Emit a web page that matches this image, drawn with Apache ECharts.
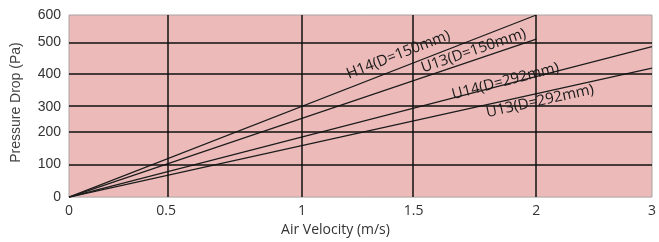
<!DOCTYPE html>
<html>
<head>
<meta charset="utf-8">
<script src="https://cdn.jsdelivr.net/npm/echarts@6/dist/echarts.min.js"></script>
<style>
  html, body { margin: 0; padding: 0; background: #fff; }
  #chart { width: 659px; height: 242px; }
</style>
</head>
<body>
<div id="chart"></div>
<script>
// data
var velTicks = [0, 0.5, 1, 1.5, 2, 3];
var velLabels = ['0', '0.5', '1', '1.5', '2', '3'];
var presTicks = [0, 100, 200, 300, 400, 500, 600];
var lineNames = ['H14(D=150mm)', 'U13(D=150mm)', 'U14(D=292mm)', 'U13(D=292mm)'];
var h14_150 = [[0, 0], [2, 600]];
var u13_150 = [[0, 0], [2, 510]];
var u14_292 = [[0, 0], [3, 485]];
var u13_292 = [[0, 0], [3, 418]];

// the original grid is not evenly spaced: where each tick sits (0..1 of the plot)
var xTickAt = [0, 0.1667, 0.3997, 0.591, 0.8015, 1];
var yTickAt = [0, 0.179, 0.357, 0.496, 0.676, 0.853, 1];

// label placement: fraction along the line, shift off the line (px)
var labelAt = [0.715, 0.872, 0.75, 0.805];
var labelShift = [13, 9, 3, -8];

function piece(v, ticks, at) {
    for (var i = 1; i < ticks.length; i++) {
        if (v <= ticks[i]) {
            var f = (v - ticks[i - 1]) / (ticks[i] - ticks[i - 1]);
            return at[i - 1] + f * (at[i] - at[i - 1]);
        }
    }
    return at[at.length - 1];
}
function toPos(pts) {
    return pts.map(function (p) {
        return [piece(p[0], velTicks, xTickAt), piece(p[1], presTicks, yTickAt)];
    });
}
function nearest(v, at) {
    var best = 0;
    for (var i = 1; i < at.length; i++) {
        if (Math.abs(at[i] - v) < Math.abs(at[best] - v)) best = i;
    }
    return best;
}

var lineData = [h14_150, u13_150, u14_292, u13_292].map(toPos);

var gridLines = [];
xTickAt.slice(1, -1).forEach(function (v) { gridLines.push({ xAxis: v }); });
yTickAt.slice(1, -1).forEach(function (v) { gridLines.push({ yAxis: v }); });

var option = {
    animation: false,
    grid: {
        left: 69,
        right: 2,
        top: 15,
        bottom: 43,
        show: true,
        backgroundColor: '#ecbbb9',
        borderColor: '#aaa3a3',
        borderWidth: 1
    },
    xAxis: {
        type: 'value',
        min: 0,
        max: 1,
        name: 'Air Velocity (m/s)',
        nameLocation: 'middle',
        nameGap: 25,
        nameTextStyle: {
            fontFamily: 'Open Sans',
            fontSize: 14,
            color: '#333',
            padding: [0, 50, 0, 0]
        },
        axisLine: { show: false },
        axisTick: { show: false },
        splitLine: { show: false },
        axisLabel: {
            customValues: xTickAt,
            margin: 7,
            fontFamily: 'Open Sans',
            fontSize: 14,
            color: '#333',
            formatter: function (v) { return velLabels[nearest(v, xTickAt)]; }
        }
    },
    yAxis: {
        type: 'value',
        min: 0,
        max: 1,
        name: 'Pressure Drop (Pa)',
        nameLocation: 'middle',
        nameGap: 46,
        nameTextStyle: {
            fontFamily: 'Liberation Sans',
            fontSize: 14,
            color: '#444',
            padding: [0, 0, 0, 7]
        },
        axisLine: { show: false },
        axisTick: { show: false },
        splitLine: { show: false },
        axisLabel: {
            customValues: yTickAt,
            margin: 8,
            fontFamily: 'Liberation Sans',
            fontSize: 14,
            color: '#333',
            formatter: function (v) { return String(presTicks[nearest(v, yTickAt)]); }
        }
    },
    series: lineData.map(function (d, i) {
        var s = {
            name: lineNames[i],
            type: 'line',
            data: d,
            symbol: 'none',
            lineStyle: { color: '#1c1c1c', width: 1.2 }
        };
        if (i === 0) {
            s.markLine = {
                silent: true,
                symbol: ['none', 'none'],
                label: { show: false },
                lineStyle: { color: '#111', width: 1.5, type: 'solid' },
                data: gridLines
            };
        }
        return s;
    })
};

var myChart = echarts.init(document.getElementById('chart'));
myChart.setOption(option);

// put the rotated line names along each line
var labelSeries = lineData.map(function (d, i) {
    var p0 = myChart.convertToPixel({ gridIndex: 0 }, d[0]);
    var p1 = myChart.convertToPixel({ gridIndex: 0 }, d[1]);
    var angle = Math.atan2(p0[1] - p1[1], p1[0] - p0[0]) * 180 / Math.PI;
    var t = labelAt[i];
    var at = [d[0][0] + t * (d[1][0] - d[0][0]), d[0][1] + t * (d[1][1] - d[0][1])];
    return {
        markPoint: {
            silent: true,
            symbol: 'circle',
            symbolSize: 0,
            itemStyle: { color: 'transparent' },
            label: {
                show: true,
                position: 'inside',
                formatter: lineNames[i],
                rotate: angle,
                offset: [0, -labelShift[i]],
                fontFamily: 'Open Sans',
                fontSize: 15,
                color: '#1a1a1a'
            },
            data: [{ coord: at }]
        }
    };
});
myChart.setOption({ series: labelSeries });
</script>
</body>
</html>
